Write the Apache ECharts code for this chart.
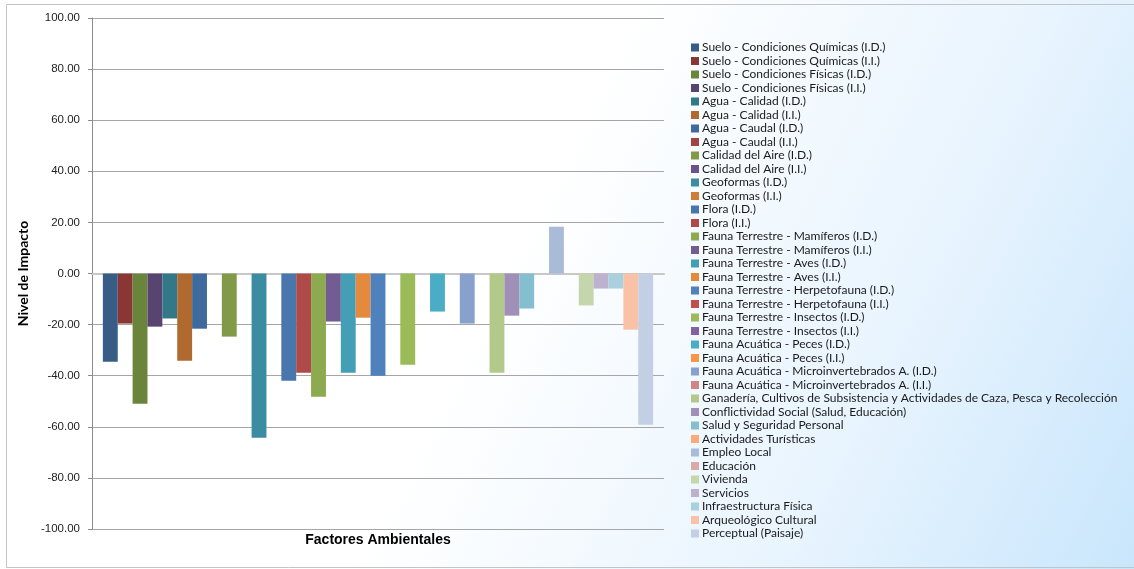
<!DOCTYPE html>
<html>
<head>
<meta charset="utf-8">
<script src="https://cdn.jsdelivr.net/npm/echarts@6/dist/echarts.min.js"></script>
<style>
html,body{margin:0;padding:0;background:#fff;}
#chart{width:1134px;height:569px;}
</style>
</head>
<body>
<div id="chart"></div>
<script>
const categories = [''];
const seriesNames = [
  'Suelo - Condiciones Químicas (I.D.)',
  'Suelo - Condiciones Químicas (I.I.)',
  'Suelo - Condiciones Físicas (I.D.)',
  'Suelo - Condiciones Físicas (I.I.)',
  'Agua - Calidad (I.D.)',
  'Agua - Calidad (I.I.)',
  'Agua - Caudal (I.D.)',
  'Agua - Caudal (I.I.)',
  'Calidad del Aire (I.D.)',
  'Calidad del Aire (I.I.)',
  'Geoformas (I.D.)',
  'Geoformas (I.I.)',
  'Flora (I.D.)',
  'Flora (I.I.)',
  'Fauna Terrestre - Mamíferos (I.D.)',
  'Fauna Terrestre - Mamíferos (I.I.)',
  'Fauna Terrestre - Aves (I.D.)',
  'Fauna Terrestre - Aves (I.I.)',
  'Fauna Terrestre - Herpetofauna (I.D.)',
  'Fauna Terrestre - Herpetofauna (I.I.)',
  'Fauna Terrestre - Insectos (I.D.)',
  'Fauna Terrestre - Insectos (I.I.)',
  'Fauna Acuática - Peces (I.D.)',
  'Fauna Acuática - Peces (I.I.)',
  'Fauna Acuática - Microinvertebrados A. (I.D.)',
  'Fauna Acuática - Microinvertebrados A. (I.I.)',
  'Ganadería, Cultivos de Subsistencia y Actividades de Caza, Pesca y Recolección',
  'Conflictividad Social (Salud, Educación)',
  'Salud y Seguridad Personal',
  'Actividades Turísticas',
  'Empleo Local',
  'Educación',
  'Vivienda',
  'Servicios',
  'Infraestructura Física',
  'Arqueológico Cultural',
  'Perceptual (Paisaje)'
];
const impactValues = [
  -34.5, -19.6, -51.0, -20.8, -17.6, -34.1, -21.6, 0,
  -24.7, 0, -64.3, 0, -42.0, -38.8, -48.2, -18.8,
  -38.8, -17.3, -40.0, 0, -35.7, 0, -14.9, 0,
  -19.6, 0, -38.8, -16.5, -13.7, 0, 18.3, 0,
  -12.5, -5.9, -5.9, -22.0, -59.2
];
const yTicks = { min: -100, max: 100, interval: 20 };
const palette = [
  '#375D87', '#8A3634', '#6A853B', '#584470', '#327888', '#B06A30', '#3F6A9E', '#A14442',
  '#809A48', '#6A528A', '#3B8BA3', '#D07C39', '#4A76AE', '#AE4A47', '#8DAA51', '#735B93',
  '#449EB6', '#E38A3E', '#4F81BD', '#C0504D', '#9BBB59', '#8064A2', '#4BACC6', '#F79646',
  '#87A1CC', '#CF8786', '#B3C98A', '#A08FB6', '#84BECF', '#F9AB7B', '#AABBD8', '#DBA9A8',
  '#C6D6AC', '#BCB1CE', '#A9D0DC', '#F9C2A7', '#C3CFE2'
];

const chart = echarts.init(document.getElementById('chart'), null, { renderer: 'canvas' });

const series = seriesNames.map((name, i) => ({
  name: name,
  type: 'bar',
  data: [impactValues[i]],
  barGap: '0%',
  barCategoryGap: '3.8%',
  itemStyle: { color: palette[i] },
  emphasis: { disabled: true }
}));

chart.setOption({
  animation: false,
  backgroundColor: {
    type: 'linear', x: 0, y: 0, x2: 1, y2: 1,
    colorStops: [
      { offset: 0, color: '#ffffff' },
      { offset: 0.45, color: '#ffffff' },
      { offset: 0.75, color: '#e8f4fe' },
      { offset: 1, color: '#c9e6fc' }
    ]
  },
  color: palette,
  graphic: [
    {
      type: 'rect',
      shape: { x: 6.5, y: 4.5, width: 1140, height: 563 },
      style: { fill: 'none', stroke: '#c4c4c4', lineWidth: 1 },
      silent: true
    },
    {
      type: 'text',
      x: 378,
      y: 533,
      style: {
        text: 'Factores Ambientales',
        fill: '#000',
        font: 'bold 14px "Liberation Sans", Arial, sans-serif',
        textAlign: 'center'
      },
      silent: true
    }
  ],
  grid: { left: 92, right: 470, top: 18, bottom: 40, containLabel: false },
  legend: {
    orient: 'vertical',
    left: 686,
    top: 36,
    itemWidth: 8,
    itemHeight: 8,
    itemGap: 0.5,
    icon: 'rect',
    selectedMode: false,
    data: seriesNames,
    textStyle: {
      fontFamily: 'Lato, "Open Sans", sans-serif',
      fontSize: 12,
      color: '#1a1a1a',
      lineHeight: 13,
      padding: [0, 0, 0, -2]
    }
  },
  xAxis: {
    type: 'category',
    data: categories,
    axisLine: { show: true, onZero: true, lineStyle: { color: '#c8c8c8', width: 2 } },
    axisTick: { show: false },
    axisLabel: { show: false },
    splitLine: { show: false }
  },
  yAxis: {
    type: 'value',
    min: yTicks.min,
    max: yTicks.max,
    interval: yTicks.interval,
    name: 'Nivel de Impacto',
    nameLocation: 'middle',
    nameRotate: 90,
    nameGap: 60,
    nameTextStyle: {
      fontFamily: 'Lato, "Open Sans", sans-serif',
      fontWeight: 'bold',
      fontSize: 14,
      color: '#000'
    },
    axisLine: { show: true, lineStyle: { color: '#8c8c8c', width: 1 } },
    axisTick: { show: true, inside: false, length: 4, lineStyle: { color: '#8c8c8c' } },
    axisLabel: {
      margin: 12,
      fontFamily: '"Liberation Sans", Arial, sans-serif',
      fontSize: 11.5,
      color: '#222',
      formatter: v => v.toFixed(2)
    },
    splitLine: { show: true, lineStyle: { color: '#a6a6a6', width: 1 } }
  },
  series: series
});
</script>
</body>
</html>
